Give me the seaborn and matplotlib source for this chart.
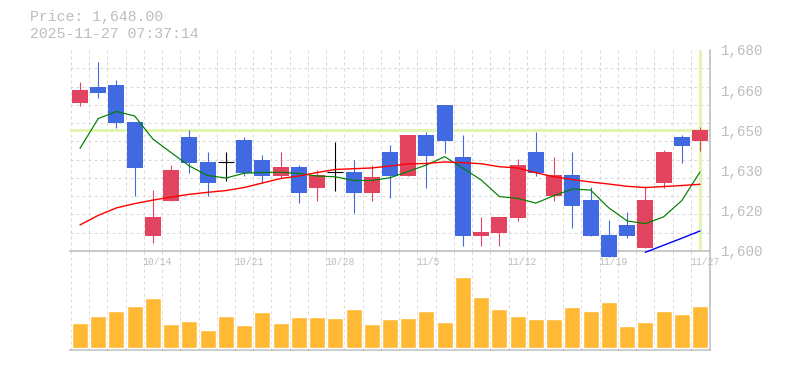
import numpy as np
import pandas as pd
import matplotlib
matplotlib.use("Agg")
import matplotlib.pyplot as plt
import matplotlib.transforms as mtransforms
import seaborn as sns

# ---------------- data ----------------
dates = ["10/7", "10/8", "10/9", "10/10", "10/14", "10/15", "10/16", "10/17", "10/20", "10/21",
         "10/22", "10/23", "10/24", "10/27", "10/28", "10/29", "10/30", "10/31", "11/4", "11/5",
         "11/6", "11/7", "11/10", "11/11", "11/12", "11/13", "11/14", "11/17", "11/18", "11/19",
         "11/20", "11/21", "11/25", "11/26", "11/27"]
label_dates = ["10/14", "10/21", "10/28", "11/5", "11/12", "11/19", "11/27"]

opens = [1659.0, 1665.3, 1666.1, 1651.3, 1606.0, 1620.0, 1645.3, 1635.4, 1635.3, 1644.1,
         1636.2, 1629.9, 1633.4, 1625.1, 1631.3, 1631.4, 1623.1, 1639.4, 1629.9, 1646.1,
         1658.1, 1637.4, 1606.0, 1607.2, 1613.2, 1639.4, 1622.0, 1630.2, 1620.2, 1606.3,
         1610.3, 1601.2, 1627.1, 1645.3, 1643.9]
highs = [1667.1, 1675.2, 1668.0, 1651.3, 1624.2, 1634.2, 1648.1, 1639.4, 1639.4, 1645.3,
         1638.2, 1639.4, 1634.2, 1632.2, 1643.3, 1636.2, 1634.2, 1642.2, 1646.1, 1647.3,
         1658.1, 1646.1, 1613.5, 1613.5, 1636.5, 1647.3, 1637.4, 1639.4, 1625.5, 1612.3,
         1615.5, 1625.5, 1640.2, 1646.1, 1649.3]
lows = [1657.8, 1661.0, 1649.0, 1622.0, 1603.2, 1620.0, 1631.1, 1622.0, 1627.9, 1629.8,
        1627.1, 1629.1, 1619.2, 1620.0, 1623.9, 1615.2, 1620.0, 1621.2, 1629.9, 1625.1,
        1638.8, 1602.0, 1602.0, 1602.0, 1611.9, 1629.9, 1620.0, 1609.2, 1606.0, 1597.4,
        1605.2, 1601.2, 1625.1, 1635.1, 1639.9]
closes = [1664.1, 1663.0, 1651.0, 1633.1, 1613.5, 1632.2, 1635.1, 1627.1, 1635.3, 1631.1,
          1629.9, 1633.4, 1623.1, 1630.2, 1631.3, 1623.1, 1629.4, 1629.9, 1646.1, 1637.9,
          1643.9, 1606.0, 1607.5, 1613.5, 1634.2, 1631.1, 1630.2, 1618.0, 1606.0, 1597.4,
          1606.0, 1620.2, 1639.4, 1641.9, 1648.0]

ma_short = [1640.8, 1652.7, 1655.5, 1653.7, 1644.5, 1639.1, 1633.8, 1630.0, 1629.0, 1630.9,
            1631.2, 1631.3, 1630.8, 1629.8, 1629.5, 1628.0, 1628.0, 1629.1, 1631.6, 1634.2,
            1637.5, 1632.9, 1628.2, 1621.6, 1620.9, 1619.0, 1622.0, 1624.6, 1624.2, 1617.1,
            1611.9, 1610.8, 1613.5, 1620.0, 1631.4]
ma_mid = [1610.3, 1614.1, 1617.1, 1618.8, 1620.2, 1621.4, 1622.5, 1623.3, 1624.0, 1625.2,
          1627.0, 1628.8, 1629.8, 1631.2, 1632.4, 1632.7, 1633.0, 1633.8, 1634.6, 1634.8,
          1635.4, 1635.1, 1634.7, 1633.5, 1633.0, 1631.1, 1629.5, 1628.4, 1627.4, 1626.6,
          1625.7, 1625.2, 1625.6, 1626.0, 1626.5]
ma_long_dates = ["11/21", "11/25", "11/26", "11/27"]
ma_long = [1599.4, 1602.2, 1605.0, 1607.9]

volume = [76, 96, 111, 126, 150, 73, 81, 54, 96, 69,
          108, 76, 93, 93, 90, 117, 73, 87, 90, 111,
          78, 214, 153, 117, 96, 87, 87, 123, 111, 138,
          66, 78, 111, 102, 126]

last_price = 1648.00
price_text = "Price: 1,648.00"
timestamp = "2025-11-27 07:37:14"
ytick_values = [1600, 1616, 1632, 1648, 1664, 1680]
ytick_labels = ["1,600", "1,620", "1,630", "1,650", "1,660", "1,680"]

# ---------------- style ----------------
UP = "#E2445F"
DOWN = "#4169E1"
DOJI = "#000000"
VOL = "#FFB935"
GRID = "#d9d9d9"
AXIS = "#c0c0c0"
TXT = "#bdbdbd"
MARK = "#e2f4b2"

sns.set_theme(style="white")
plt.rcParams["font.family"] = ["Liberation Mono", "DejaVu Sans Mono"]

W, H = 785, 370
fig = plt.figure(figsize=(W / 100, H / 100), dpi=100)
fig.patch.set_facecolor("white")


def rect(l, t, r, b):
    return [l / W, 1 - b / H, (r - l) / W, (b - t) / H]


axv = fig.add_axes(rect(70, 251, 710, 350))
ax = fig.add_axes(rect(70, 50, 710, 250.8))

n = len(dates)
idx = np.arange(n)
df = pd.DataFrame({"idx": idx, "date": dates, "open": opens, "high": highs,
                   "low": lows, "close": closes, "ma_short": ma_short,
                   "ma_mid": ma_mid, "volume": volume})
pos = {d: i for i, d in enumerate(dates)}

XL = (-0.548, n - 1 + 0.548)
px = 0.72  # one pixel in points

for a in (ax, axv):
    a.patch.set_alpha(0.0)
    a.set_xticks(np.arange(n + 1) - 0.5, minor=True)
    a.grid(False, which="major")
    a.grid(True, which="minor", axis="x", color=GRID, lw=px, ls=(0, (3, 3)))
    a.tick_params(which="both", length=0)
    for s in ("left", "top"):
        a.spines[s].set_visible(False)
    for s in ("right", "bottom"):
        a.spines[s].set_visible(True)
        a.spines[s].set_color(AXIS)
        a.spines[s].set_linewidth(1.2)
    a.set_axisbelow(True)

# ---------- price panel ----------
ax.set_yticks(np.linspace(1600, 1680, 12), minor=True)
ax.grid(True, which="minor", axis="y", color=GRID, lw=px, ls=(0, (3, 3)))

# last price markers
ax.axhline(last_price, color=MARK, lw=3 * px, zorder=1.5)
ax.axvline(pos[dates[-1]], ymin=0.012, ymax=1, color=MARK, lw=3 * px, zorder=1.5)

# candles
for i, o, h, l, c in zip(idx, opens, highs, lows, closes):
    if c > o:
        col = UP
    elif c < o:
        col = DOWN
    else:
        col = DOJI
    ax.vlines(i, l, h, color=col, lw=1.1 * px, zorder=3, clip_on=False)
    if c == o:
        ax.hlines(c, i - 0.43, i + 0.43, color=col, lw=1.1 * px, zorder=3)
    else:
        ax.bar(i, abs(c - o), bottom=min(o, c), width=0.875, color=col,
               edgecolor="none", linewidth=0, zorder=3, clip_on=False)

# moving averages
sns.lineplot(data=df, x="idx", y="ma_short", ax=ax, color="#008000", lw=1.2 * px,
             zorder=4, clip_on=False)
sns.lineplot(data=df, x="idx", y="ma_mid", ax=ax, color="#ff0000", lw=1.4 * px,
             zorder=4, clip_on=False)
sns.lineplot(x=[pos[d] for d in ma_long_dates], y=ma_long, ax=ax, color="#0000ff",
             lw=1.4 * px, zorder=4, clip_on=False)

ax.set_xlim(*XL)
ax.set_ylim(1600, 1680)
ax.set_xticks([])
ax.yaxis.tick_right()
ax.set_yticks(ytick_values)
ax.set_yticklabels(ytick_labels)
ax.tick_params(axis="y", which="major", pad=7.6, labelsize=10.2, labelcolor=TXT)
for t in ax.get_yticklabels():
    t.set_verticalalignment("center_baseline")
ax.set_xlabel("")
ax.set_ylabel("")

# date labels (left aligned at grid line left of the day)
trans = mtransforms.blended_transform_factory(ax.transData, ax.transAxes)
for d in label_dates:
    ax.text(pos[d] - 0.56, -0.058, d, transform=trans, ha="left", va="center",
            fontsize=7, color=TXT, clip_on=False, zorder=6)

# ---------- volume panel ----------
sns.barplot(data=df, x="idx", y="volume", ax=axv, color=VOL, saturation=1,
            width=0.877, errorbar=None, zorder=3)
axv.set_xlim(*XL)
axv.set_ylim(-6, 291)
axv.set_xticks([])
axv.set_yticks([])
axv.set_xticks(np.arange(n + 1) - 0.5, minor=True)
axv.grid(True, which="minor", axis="x", color=GRID, lw=px, ls=(0, (3, 3)))
axv.set_xlabel("")
axv.set_ylabel("")

# ---------- header ----------
fig.text(30 / W, 1 - 17.5 / H, price_text, ha="left", va="center",
         fontsize=10.7, color=TXT)
fig.text(30 / W, 1 - 33.5 / H, timestamp, ha="left", va="center",
         fontsize=10.7, color=TXT)

fig.savefig("out.png", dpi=100, facecolor="white")
